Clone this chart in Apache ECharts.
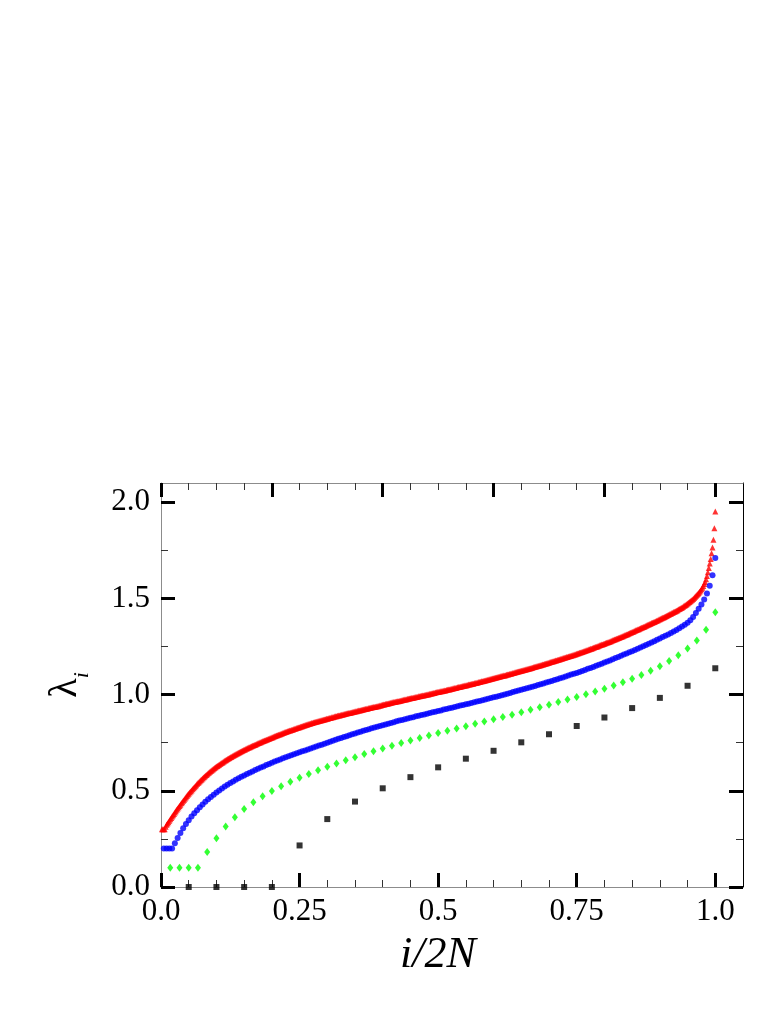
<!DOCTYPE html>
<html><head><meta charset="utf-8">
<script src="https://cdn.jsdelivr.net/npm/echarts@6/dist/echarts.min.js"></script>
<style>html,body{margin:0;padding:0;background:#fff}#c{width:781px;height:1011px}</style>
</head><body><div id="c"></div>
<script>
// x = i/2N
const blackValues = [0,0,0,0,0.216,0.353,0.444,0.513,0.571,0.622,0.667,0.708,0.752,0.794,0.837,0.881,0.930,0.983,1.046,1.137];

const greenValues = [0.1,0.1,0.1,0.1,0.182,0.254,0.314,0.363,0.405,0.441,
0.472,0.499,0.524,0.547,0.568,0.588,0.607,0.625,0.642,0.659,
0.675,0.691,0.706,0.720,0.734,0.748,0.761,0.774,0.787,0.800,
0.812,0.824,0.836,0.848,0.860,0.872,0.884,0.896,0.908,0.921,
0.934,0.947,0.961,0.975,0.988,1.002,1.016,1.031,1.047,1.064,
1.082,1.102,1.124,1.148,1.175,1.205,1.240,1.281,1.337,1.428];

const blueValues = [0.200,0.200,0.200,0.200,0.228,0.255,0.281,0.305,0.327,0.347,
0.366,0.383,0.399,0.415,0.429,0.443,0.456,0.468,0.480,0.491,
0.502,0.512,0.522,0.531,0.540,0.548,0.557,0.565,0.573,0.580,
0.587,0.594,0.601,0.608,0.615,0.621,0.627,0.634,0.640,0.646,
0.652,0.658,0.663,0.669,0.674,0.680,0.685,0.690,0.695,0.700,
0.705,0.710,0.715,0.720,0.725,0.730,0.735,0.740,0.745,0.750,
0.755,0.760,0.765,0.770,0.775,0.780,0.784,0.789,0.794,0.798,
0.803,0.807,0.812,0.816,0.820,0.825,0.829,0.833,0.837,0.841,
0.845,0.849,0.853,0.857,0.861,0.865,0.868,0.872,0.876,0.880,
0.883,0.887,0.890,0.894,0.897,0.901,0.904,0.908,0.911,0.915,
0.918,0.922,0.925,0.929,0.932,0.936,0.939,0.943,0.946,0.950,
0.953,0.957,0.960,0.964,0.967,0.971,0.975,0.978,0.982,0.986,
0.989,0.993,0.997,1.001,1.005,1.009,1.013,1.017,1.021,1.025,
1.029,1.033,1.037,1.041,1.045,1.050,1.054,1.058,1.063,1.067,
1.071,1.076,1.080,1.085,1.089,1.094,1.099,1.104,1.108,1.113,
1.118,1.123,1.128,1.134,1.139,1.144,1.150,1.155,1.161,1.167,
1.172,1.178,1.184,1.190,1.196,1.202,1.208,1.214,1.220,1.226,
1.232,1.238,1.245,1.251,1.258,1.264,1.271,1.278,1.285,1.292,
1.299,1.306,1.313,1.320,1.328,1.336,1.345,1.354,1.363,1.373,
1.386,1.404,1.424,1.446,1.469,1.495,1.526,1.566,1.620,1.710];

const redValues = [
0.300,0.300,0.300,0.300,0.313,0.323, 0.330,0.337,0.345,0.352,0.359,0.366,
0.373,0.380,0.387,0.394,0.401,0.408, 0.415,0.421,0.428,0.435,0.441,0.448,
0.454,0.460,0.467,0.473,0.479,0.485, 0.491,0.496,0.502,0.508,0.513,0.519,
0.524,0.529,0.535,0.540,0.545,0.550, 0.555,0.559,0.564,0.569,0.573,0.578,
0.582,0.586,0.591,0.595,0.599,0.603, 0.607,0.611,0.615,0.618,0.622,0.626,
0.629,0.633,0.636,0.639,0.643,0.646, 0.649,0.652,0.656,0.659,0.662,0.665,
0.668,0.671,0.674,0.676,0.679,0.682, 0.685,0.687,0.690,0.693,0.695,0.698,
0.700,0.703,0.706,0.708,0.711,0.713, 0.715,0.718,0.720,0.722,0.725,0.727,
0.729,0.731,0.734,0.736,0.738,0.740, 0.742,0.744,0.747,0.749,0.751,0.753,
0.755,0.757,0.759,0.761,0.763,0.765, 0.767,0.769,0.771,0.773,0.775,0.777,
0.779,0.781,0.783,0.785,0.787,0.789, 0.791,0.793,0.794,0.796,0.798,0.800,
0.802,0.804,0.806,0.807,0.809,0.811, 0.813,0.814,0.816,0.818,0.819,0.821,
0.823,0.824,0.826,0.828,0.829,0.831, 0.833,0.834,0.836,0.838,0.839,0.841,
0.843,0.844,0.846,0.847,0.849,0.850, 0.852,0.853,0.855,0.856,0.858,0.859,
0.860,0.862,0.863,0.864,0.866,0.867, 0.868,0.870,0.871,0.872,0.874,0.875,
0.876,0.878,0.879,0.880,0.882,0.883, 0.884,0.886,0.887,0.888,0.890,0.891,
0.892,0.893,0.895,0.896,0.897,0.898, 0.899,0.900,0.902,0.903,0.904,0.905,
0.906,0.907,0.909,0.910,0.911,0.912, 0.913,0.914,0.916,0.917,0.918,0.919,
0.920,0.921,0.923,0.924,0.925,0.926, 0.927,0.928,0.930,0.931,0.932,0.933,
0.934,0.935,0.936,0.937,0.938,0.939, 0.940,0.942,0.943,0.944,0.946,0.947,
0.948,0.949,0.951,0.952,0.953,0.954, 0.955,0.956,0.958,0.959,0.960,0.961,
0.962,0.963,0.964,0.965,0.966,0.967, 0.968,0.969,0.971,0.972,0.973,0.974,
0.975,0.976,0.978,0.979,0.980,0.981, 0.982,0.983,0.984,0.985,0.986,0.987,
0.988,0.989,0.991,0.992,0.993,0.994, 0.995,0.996,0.997,0.998,0.999,1.000,
1.001,1.002,1.004,1.005,1.006,1.007, 1.008,1.009,1.011,1.012,1.013,1.014,
1.015,1.016,1.017,1.018,1.019,1.020, 1.021,1.022,1.024,1.025,1.026,1.027,
1.028,1.029,1.031,1.032,1.033,1.034, 1.035,1.036,1.038,1.039,1.040,1.041,
1.042,1.043,1.045,1.046,1.047,1.048, 1.049,1.050,1.052,1.053,1.054,1.055,
1.056,1.057,1.059,1.060,1.061,1.062, 1.063,1.065,1.066,1.067,1.069,1.070,
1.071,1.072,1.074,1.075,1.076,1.077, 1.078,1.080,1.081,1.082,1.084,1.085,
1.086,1.088,1.089,1.090,1.092,1.093, 1.094,1.095,1.097,1.098,1.099,1.100,
1.101,1.103,1.104,1.105,1.107,1.108, 1.109,1.111,1.112,1.113,1.115,1.116,
1.117,1.119,1.120,1.121,1.123,1.124, 1.125,1.127,1.128,1.129,1.131,1.132,
1.133,1.135,1.136,1.137,1.139,1.140, 1.142,1.143,1.145,1.146,1.148,1.149,
1.150,1.152,1.153,1.154,1.156,1.157, 1.159,1.160,1.162,1.163,1.165,1.166,
1.168,1.169,1.171,1.172,1.174,1.175, 1.177,1.178,1.180,1.181,1.183,1.184,
1.186,1.187,1.189,1.190,1.192,1.193, 1.195,1.196,1.198,1.199,1.201,1.202,
1.204,1.205,1.207,1.209,1.210,1.212, 1.214,1.215,1.217,1.219,1.220,1.222,
1.224,1.225,1.227,1.229,1.230,1.232, 1.234,1.236,1.238,1.239,1.241,1.243,
1.245,1.247,1.249,1.250,1.252,1.254, 1.256,1.258,1.260,1.261,1.263,1.265,
1.267,1.269,1.271,1.272,1.274,1.276, 1.278,1.280,1.282,1.284,1.286,1.288,
1.290,1.292,1.294,1.296,1.298,1.300, 1.302,1.304,1.306,1.308,1.310,1.312,
1.314,1.316,1.319,1.321,1.323,1.325, 1.327,1.329,1.332,1.334,1.336,1.338,
1.340,1.342,1.345,1.347,1.349,1.351, 1.353,1.356,1.358,1.360,1.363,1.365,
1.367,1.369,1.372,1.374,1.376,1.378, 1.380,1.383,1.385,1.387,1.390,1.392,
1.394,1.397,1.399,1.401,1.404,1.406, 1.409,1.411,1.414,1.416,1.419,1.421,
1.424,1.426,1.429,1.431,1.434,1.436, 1.439,1.442,1.445,1.447,1.450,1.453,
1.456,1.460,1.463,1.466,1.470,1.473, 1.477,1.481,1.485,1.489,1.493,1.497,
1.502,1.507,1.512,1.518,1.523,1.528, 1.535,1.541,1.548,1.556,1.565,1.575,
1.585,1.600,1.617,1.636,1.658,1.682, 1.705,1.735,1.765,1.805,1.865,1.952];

// axis ticks and labels
const xMajorBottom = [0, 0.25, 0.5, 0.75, 1.0];
const xLabelText = ['0.0', '0.25', '0.5', '0.75', '1.0'];
const xMinorBottom = [0.05,0.1,0.15,0.2,0.3,0.35,0.4,0.45,0.55,0.6,0.65,0.7,0.8,0.85,0.9,0.95];
const xMajorTop = [0, 0.2, 0.4, 0.6, 0.8, 1.0];
const xMinorTop = [0.05,0.1,0.15,0.25,0.3,0.35,0.45,0.5,0.55,0.65,0.7,0.75,0.85,0.9,0.95];
const yMajor = [0, 0.5, 1.0, 1.5, 2.0];
const yLabelText = ['0.0', '0.5', '1.0', '1.5', '2.0'];
const yMinor = [0.25, 0.75, 1.25, 1.75];

const FONT = '"Liberation Serif", "Times New Roman", serif';
const XMIN = 0, XMAX = 1.05, YMIN = 0, YMAX = 2.1;

function toPairs(vals) {
  const n = vals.length;
  return vals.map((v, k) => [(k + 1) / n, v]);
}
function labelFor(list, texts) {
  return function (v) {
    for (let k = 0; k < list.length; k++) if (Math.abs(list[k] - v) < 1e-6) return texts[k];
    return '';
  };
}
function mkAxis(pos, ticks, len, width, tickColor, lineShow, lineColor, labels) {
  const isX = (pos === 'bottom' || pos === 'top');
  const ax = {
    type: 'value', position: pos,
    min: isX ? XMIN : YMIN, max: isX ? XMAX : YMAX,
    axisLine: { show: lineShow, onZero: false, lineStyle: { color: lineColor, width: 1 } },
    axisTick: { show: true, inside: true, length: len, customValues: ticks,
      lineStyle: { color: tickColor, width: width, cap: 'butt' } },
    axisLabel: { show: false },
    splitLine: { show: false }
  };
  if (labels) {
    ax.axisLabel = {
      show: true, customValues: labels.vals, formatter: labelFor(labels.vals, labels.texts),
      fontFamily: FONT, fontSize: 31, color: '#000', margin: labels.margin
    };
  }
  return ax;
}

const chart = echarts.init(document.getElementById('c'), null, { renderer: 'canvas' });
const xAxes = [
  mkAxis('bottom', xMajorBottom, 14, 3, '#000', true, '#8c8c8c', { vals: xMajorBottom, texts: xLabelText, margin: 9 }),
  mkAxis('bottom', xMinorBottom, 7, 1, '#333', false, '#000', null),
  mkAxis('top', xMajorTop, 14, 3, '#000', true, '#8c8c8c', null),
  mkAxis('top', xMinorTop, 7, 1, '#333', false, '#000', null)
];
xAxes[0].name = 'i/2N';
xAxes[0].nameLocation = 'middle';
xAxes[0].nameGap = 46;
xAxes[0].nameTextStyle = { fontFamily: FONT, fontStyle: 'italic', fontSize: 44, color: '#000', padding: [0, 28, 0, 0] };

const yAxes = [
  mkAxis('left', yMajor, 14, 3, '#000', true, '#8c8c8c', { vals: yMajor, texts: yLabelText, margin: 11 }),
  mkAxis('left', yMinor, 7, 1, '#333', false, '#000', null),
  mkAxis('right', yMajor, 14, 3, '#000', true, '#000', null),
  mkAxis('right', yMinor, 7, 1, '#333', false, '#000', null)
];
yAxes[0].name = '{l|λ}{s|i}';
yAxes[0].nameLocation = 'middle';
yAxes[0].nameRotate = 90;
yAxes[0].nameGap = 68;
yAxes[0].nameTextStyle = {
  color: '#000',
  rich: {
    l: { fontFamily: FONT, fontSize: 40, color: '#000', verticalAlign: 'bottom', padding: [0, 0, 8, 0] },
    s: { fontFamily: FONT, fontStyle: 'italic', fontSize: 22, color: '#000', verticalAlign: 'bottom' }
  }
};

chart.setOption({
  animation: false,
  backgroundColor: '#fff',
  grid: { left: 161, right: 38, top: 483, bottom: 124, containLabel: false },
  xAxis: xAxes,
  yAxis: yAxes,
  series: [
    { type: 'scatter', name: 'red', data: toPairs(redValues), symbol: 'triangle', symbolSize: 6,
      itemStyle: { color: '#ff0000' }, xAxisIndex: 0, yAxisIndex: 0 },
    { type: 'scatter', name: 'blue', data: toPairs(blueValues), symbol: 'circle', symbolSize: 6,
      itemStyle: { color: '#0000ff' }, xAxisIndex: 0, yAxisIndex: 0 },
    { type: 'scatter', name: 'green', data: toPairs(greenValues), symbol: 'diamond', symbolSize: [6, 8],
      itemStyle: { color: '#00ff00' }, xAxisIndex: 0, yAxisIndex: 0 },
    { type: 'scatter', name: 'black', data: toPairs(blackValues), symbol: 'rect', symbolSize: 6,
      itemStyle: { color: '#000' }, xAxisIndex: 0, yAxisIndex: 0 }
  ]
});
</script></body></html>
